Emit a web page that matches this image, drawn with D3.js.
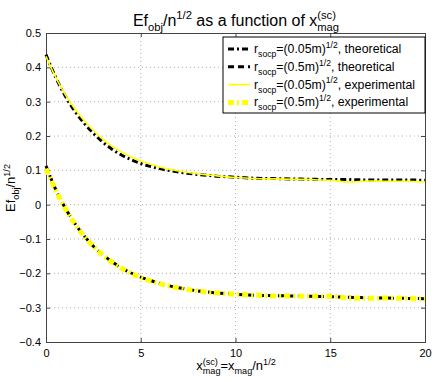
<!DOCTYPE html>
<html><head><meta charset="utf-8">
<script src="https://cdn.jsdelivr.net/npm/d3@7"></script>
<style>html,body{margin:0;padding:0;background:#fff;} text{font-family:"Liberation Sans",Arial,sans-serif;white-space:pre;}</style>
</head><body>
<svg id="chart" width="436" height="382"></svg>
<script>
const xs = [0,0.5,1,1.5,2,2.5,3,3.5,4,4.5,5,6,7,8,9,10,11,12,13,14,15,16,17,18,19,20];
const upperTheo = [0.437,0.372,0.318,0.274,0.238,0.208,0.182,0.161,0.144,0.131,0.120,0.105,0.095,0.088,0.083,0.080,0.077,0.076,0.075,0.074,0.073,0.073,0.072,0.072,0.072,0.071];
const upperExp  = [0.432,0.372,0.322,0.281,0.246,0.216,0.191,0.170,0.153,0.139,0.127,0.110,0.098,0.090,0.084,0.079,0.076,0.075,0.074,0.073,0.071,0.066,0.069,0.068,0.068,0.066];
const lowerTheo = [0.113,0.046,-0.008,-0.053,-0.090,-0.121,-0.146,-0.167,-0.185,-0.199,-0.211,-0.229,-0.242,-0.251,-0.257,-0.261,-0.264,-0.265,-0.266,-0.267,-0.268,-0.270,-0.271,-0.272,-0.273,-0.274];
const lowerExp  = [0.105,0.043,-0.010,-0.054,-0.091,-0.121,-0.147,-0.168,-0.186,-0.200,-0.212,-0.230,-0.243,-0.251,-0.257,-0.261,-0.263,-0.266,-0.266,-0.267,-0.267,-0.272,-0.273,-0.272,-0.273,-0.275];
const xTicks = [0,5,10,15,20];
const yTicks = [-0.4,-0.3,-0.2,-0.1,0,0.1,0.2,0.3,0.4,0.5];
const seriesNames = [
  ["r", "socp", "=(0.05m)", "1/2", ", theoretical"],
  ["r", "socp", "=(0.5m)", "1/2", ", theoretical"],
  ["r", "socp", "=(0.05m)", "1/2", ", experimental"],
  ["r", "socp", "=(0.5m)", "1/2", ", experimental"]
];

const styles = [
  {stroke:"#000", width:3, dash:"6,3,2,3"},
  {stroke:"#000", width:3, dash:"6,4"},
  {stroke:"#ffff00", width:1.6, dash:null},
  {stroke:"#ffff00", width:5, dash:"6,3,2,3"}
];
const seriesData = [upperTheo, lowerTheo, upperExp, lowerExp];

const svg = d3.select("#chart");
const L = 46, R = 425, T = 33, B = 342;
const x = d3.scaleLinear().domain([0,20]).range([L,R]);
const y = d3.scaleLinear().domain([-0.4,0.5]).range([B,T]);

function rich(parent, px, py, segs, fs, anchor, rot) {
  const g = parent.append("g").attr("transform", `translate(${px},${py})` + (rot ? ` rotate(${rot})` : ""));
  const inner = g.append("g");
  const sm = fs * 0.7;
  let cx = 0;
  function add(t, ox, oy, size) {
    const el = inner.append("text").attr("x", ox).attr("y", oy).attr("font-size", size).attr("fill", "#000").text(t);
    return el.node().getComputedTextLength();
  }
  segs.forEach(s => {
    if (typeof s === "string") { cx += add(s, cx, 0, fs); }
    else {
      let w1 = 0, w2 = 0;
      if (s.sup) w1 = add(s.sup, cx, -fs * 0.42, sm);
      if (s.sub) w2 = add(s.sub, cx, fs * 0.32, sm);
      cx += Math.max(w1, w2);
    }
  });
  if (anchor === "middle") inner.attr("transform", `translate(${-cx/2},0)`);
  return cx;
}

// grid
const grid = svg.append("g").attr("stroke", "#b0b0b0").attr("stroke-width", 1).attr("stroke-dasharray", "1,3");
xTicks.slice(1, -1).forEach(t => grid.append("line").attr("x1", x(t)).attr("x2", x(t)).attr("y1", T).attr("y2", B));
yTicks.slice(1, -1).forEach(t => grid.append("line").attr("x1", L).attr("x2", R).attr("y1", y(t)).attr("y2", y(t)));

// axes
const axCol = "#444";
const xb = svg.append("g").attr("transform", `translate(0,${B})`).call(d3.axisBottom(x).tickValues(xTicks).tickSize(-4).tickPadding(7).tickFormat(d3.format("d")));
const xt = svg.append("g").attr("transform", `translate(0,${T})`).call(d3.axisTop(x).tickValues(xTicks).tickSize(-4).tickFormat(""));
const yl = svg.append("g").attr("transform", `translate(${L},0)`).call(d3.axisLeft(y).tickValues(yTicks).tickSize(-4).tickPadding(5));
const yr = svg.append("g").attr("transform", `translate(${R},0)`).call(d3.axisRight(y).tickValues(yTicks).tickSize(-4).tickFormat(""));
yl.selectAll(".tick text").text(d => Math.abs(d) < 1e-9 ? "0" : d3.format(".1f")(d).replace("-", "\u2212"));
[xb, xt, yl, yr].forEach(a => {
  a.selectAll("path.domain").attr("stroke", axCol);
  a.selectAll(".tick line").attr("stroke", axCol);
  a.selectAll(".tick text").attr("font-size", 11).attr("fill", "#000").attr("font-family", "Liberation Sans, Arial, sans-serif");
});

// lines
const line = d3.line().x((d, i) => x(xs[i])).y(d => y(d)).curve(d3.curveMonotoneX);
const plot = svg.append("g");
seriesData.forEach((data, k) => {
  const st = styles[k];
  plot.append("path").datum(data).attr("d", line).attr("fill", "none")
    .attr("stroke", st.stroke).attr("stroke-width", st.width)
    .attr("stroke-dasharray", st.dash);
});

// title and labels
rich(svg, 236, 26, ["Ef", {sub:"obj"}, "/n", {sup:"1/2"}, " as a function of x", {sup:"(sc)", sub:"mag"}], 16, "middle");
rich(svg, 236, 370, ["x", {sup:"(sc)", sub:"mag"}, "=x", {sub:"mag"}, "/n", {sup:"1/2"}], 13, "middle");
rich(svg, 15, 188, ["Ef", {sub:"obj"}, "/n", {sup:"1/2"}], 13, "middle", -90);

// legend
const lg = svg.append("g");
const lgL = 223, lgT = 37, lgR = 425, lgB = 113;
lg.append("rect").attr("x", lgL).attr("y", lgT).attr("width", lgR - lgL).attr("height", lgB - lgT).attr("fill", "#fff").attr("stroke", "#000").attr("stroke-width", 1);
[0, 1, 2, 3].forEach(i => {
  const cy = 49 + i * 17.8;
  const st = styles[i];
  lg.append("line").attr("x1", 228).attr("x2", 250).attr("y1", cy).attr("y2", cy)
    .attr("stroke", st.stroke).attr("stroke-width", st.width).attr("stroke-dasharray", st.dash);
  const n = seriesNames[i];
  rich(lg, 254, cy + 4, [n[0], {sub:n[1]}, n[2], {sup:n[3]}, n[4]], 12.3, "start");
});
</script>
</body></html>
